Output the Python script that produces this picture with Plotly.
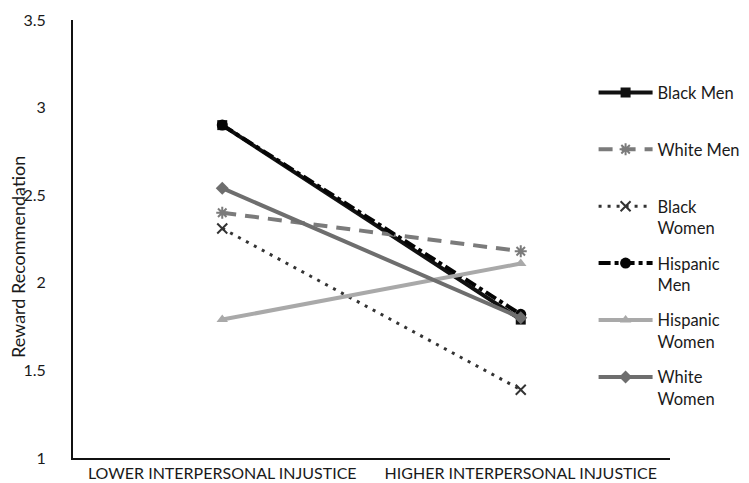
import plotly.graph_objects as go

CONDITIONS = ["LOWER INTERPERSONAL INJUSTICE", "HIGHER INTERPERSONAL INJUSTICE"]

BLACK_MEN = [2.90, 1.79]
WHITE_MEN = [2.40, 2.18]
BLACK_WOMEN = [2.31, 1.39]
HISPANIC_MEN = [2.90, 1.82]
HISPANIC_WOMEN = [1.79, 2.11]
WHITE_WOMEN = [2.54, 1.80]

FONT = "Lato, 'Open Sans', sans-serif"
TXT = "#1a1a1a"

series = [
    ("Black Men<br> ", BLACK_MEN, "#111111", "solid", "square", 10, 4),
    ("White Men<br> ", WHITE_MEN, "#7b7b7b", "14px,9px", "asterisk-open", 10, 4),
    ("Black<br>Women", BLACK_WOMEN, "#333333", "3px,6px", "x-thin-open", 10, 3),
    ("Hispanic<br>Men", HISPANIC_MEN, "#050505", "dashdot", "circle", 11, 4),
    ("Hispanic<br>Women", HISPANIC_WOMEN, "#a9a9a9", "solid", "triangle-up", 10, 4),
    ("White<br>Women", WHITE_WOMEN, "#6e6e6e", "solid", "diamond", 10, 4),
]

fig = go.Figure()
for i, (name, vals, color, dash, sym, size, width) in enumerate(series):
    open_sym = sym.endswith("open")
    fig.add_trace(
        go.Scatter(
            x=CONDITIONS, y=vals, name=name, mode="lines+markers",
            legendgroup=f"g{i}",
            line=dict(color=color, width=width, dash=dash),
            marker=dict(
                symbol=sym, size=size, color=color,
                line=dict(color=color, width=2 if open_sym else 0),
            ),
        )
    )

fig.update_layout(
    width=749, height=483,
    paper_bgcolor="white", plot_bgcolor="white",
    font=dict(family=FONT, size=16, color=TXT),
    margin=dict(l=65, r=87, t=12, b=33, autoexpand=False),
    showlegend=True,
    legend=dict(
        x=0.872, xanchor="left", y=0.874, yanchor="top",
        bgcolor="rgba(0,0,0,0)", font=dict(size=16.5, color=TXT),
        valign="top", tracegroupgap=11, itemwidth=54,
    ),
)
# y title as an annotation so it sits clear of the tick labels
fig.add_annotation(
    text="Reward Recommendation", textangle=-90,
    xref="paper", yref="paper", x=-0.093, y=0.46,
    xanchor="center", yanchor="middle", showarrow=False,
    font=dict(size=18, color=TXT),
)
fig.update_xaxes(
    range=[-0.5, 1.5], automargin=False,
    showline=True, linecolor="#111111", linewidth=2,
    showgrid=False, ticks="", tickfont=dict(size=16),
)
fig.update_yaxes(
    range=[1, 3.5], dtick=0.5, automargin=False,
    showline=True, linecolor="#111111", linewidth=2,
    showgrid=False, zeroline=False, ticks="", tickfont=dict(size=16),
    ticklabelstandoff=22,
)

fig.write_html("out.html")
